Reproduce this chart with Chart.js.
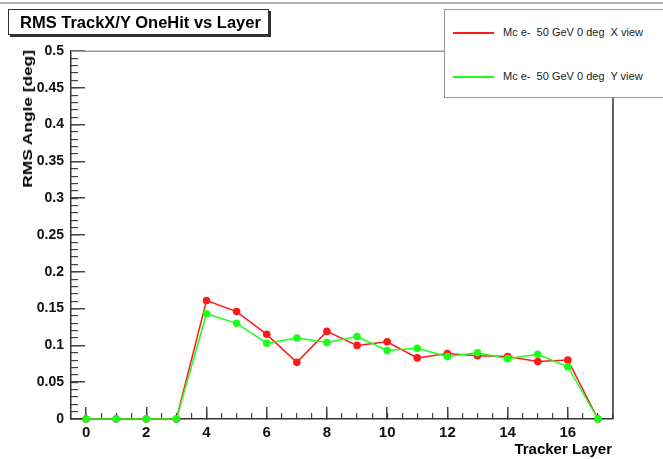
<!DOCTYPE html>
<html>
<head>
<meta charset="utf-8">
<script src="https://cdn.jsdelivr.net/npm/chart.js@4.4.0/dist/chart.umd.min.js"></script>
<style>
  body { margin: 0; background: #fff; font-family: "Liberation Sans", Arial, sans-serif; overflow: hidden; }
  #wrap { position: relative; width: 663px; height: 459px; overflow: hidden; }
  #topline { position: absolute; left: 0; top: 2px; width: 663px; height: 2px; background: #b0b0b0; }
  #title { position: absolute; left: 8px; top: 9px; width: 248px; height: 24px; border: 1px solid #333;
           box-shadow: 2px 2px 0 #333; background: #fff; font-weight: bold; font-size: 16.5px;
           line-height: 24px; padding-left: 11px; white-space: nowrap; color: #000; }
  #legend { position: absolute; left: 444px; top: 9px; width: 300px; height: 87px; border: 1px solid #999;
            background: #fff; font-size: 11px; color: #222; }
  .row { position: absolute; left: 8px; height: 14px; line-height: 14px; white-space: pre; }
  .row span { display: inline-block; width: 41px; height: 2px; vertical-align: middle; margin-right: 9px; }
  #ytitle { position: absolute; left: 20px; top: 50px; line-height: 15px; transform-origin: 0 0;
            transform: rotate(-90deg) translateX(-133%) scaleX(1.33);
            font-weight: bold; font-size: 13px; white-space: nowrap; }
  #xtitle { position: absolute; right: 51px; top: 440px; font-weight: bold; font-size: 15px; }
</style>
</head>
<body>
<div id="wrap">
  <canvas id="rmsChart" width="663" height="459"></canvas>
  <div id="topline"></div>
  <div id="title">RMS TrackX/Y OneHit vs Layer</div>
  <div id="legend">
    <div class="row" style="top:15px"><span style="background:#ff1a1a"></span>Mc e-  50 GeV 0 deg  X view</div>
    <div class="row" style="top:59px"><span style="background:#1aff1a"></span>Mc e-  50 GeV 0 deg  Y view</div>
  </div>
  <div id="ytitle">RMS Angle [deg]</div>
  <div id="xtitle">Tracker Layer</div>
</div>
<script>
// tracker layers and RMS angle per layer
const layers = [0, 1, 2, 3, 4, 5, 6, 7, 8, 9, 10, 11, 12, 13, 14, 15, 16, 17];
const rmsX = [0, 0, 0, 0, 0.161, 0.146, 0.115, 0.077, 0.119, 0.100, 0.105, 0.083, 0.089, 0.086, 0.085, 0.078, 0.080, 0];
const rmsY = [0, 0, 0, 0, 0.143, 0.130, 0.103, 0.110, 0.104, 0.112, 0.093, 0.096, 0.085, 0.090, 0.082, 0.088, 0.071, 0];

const xTickLabels = [0, 2, 4, 6, 8, 10, 12, 14, 16];
const yTickLabels = ['0', '0.05', '0.1', '0.15', '0.2', '0.25', '0.3', '0.35', '0.4', '0.45', '0.5'];
// minor tick positions (no labels)
const xMinorTicks = [-0.5, 0, 0.5, 1, 1.5, 2, 2.5, 3, 3.5, 4, 4.5, 5, 5.5, 6, 6.5, 7, 7.5, 8, 8.5,
    9, 9.5, 10, 10.5, 11, 11.5, 12, 12.5, 13, 13.5, 14, 14.5, 15, 15.5, 16, 16.5, 17, 17.5];
const yMinorTicks = [0, 0.01, 0.02, 0.03, 0.04, 0.05, 0.06, 0.07, 0.08, 0.09, 0.1, 0.11, 0.12, 0.13, 0.14,
    0.15, 0.16, 0.17, 0.18, 0.19, 0.2, 0.21, 0.22, 0.23, 0.24, 0.25, 0.26, 0.27, 0.28, 0.29, 0.3, 0.31,
    0.32, 0.33, 0.34, 0.35, 0.36, 0.37, 0.38, 0.39, 0.4, 0.41, 0.42, 0.43, 0.44, 0.45, 0.46, 0.47, 0.48, 0.49, 0.5];

// frame like ROOT: grey top, dark right
const rootFrame = {
    id: 'rootFrame',
    beforeDatasetsDraw(chart) {
        const c = chart.ctx;
        const a = chart.chartArea;
        c.save();
        c.fillStyle = '#999';
        c.fillRect(a.left, a.top - 0.5, a.right - a.left, 1.5);
        c.fillStyle = '#333';
        c.fillRect(a.right - 0.75, a.top, 1.5, a.bottom - a.top);
        c.restore();
    }
};

const tickFont = { family: 'Liberation Sans', size: 15, weight: 'bold' };

const ctx = document.getElementById('rmsChart').getContext('2d');
const rmsChart = new Chart(ctx, {
    type: 'line',
    data: {
        datasets: [{
            label: 'Mc e-  50 GeV 0 deg  Y view',
            data: layers.map((l, i) => ({ x: l, y: rmsY[i] })),
            borderColor: '#1aff1a',
            backgroundColor: '#1aff1a',
            borderWidth: 1.5,
            pointRadius: 3.8,
            pointBorderWidth: 0,
            clip: false,
            order: 0
        }, {
            label: 'Mc e-  50 GeV 0 deg  X view',
            data: layers.map((l, i) => ({ x: l, y: rmsX[i] })),
            borderColor: '#ff1a1a',
            backgroundColor: '#ff1a1a',
            borderWidth: 1.5,
            pointRadius: 3.8,
            pointBorderWidth: 0,
            clip: false,
            order: 1
        }]
    },
    options: {
        responsive: false,
        animation: false,
        layout: { padding: { left: 0, top: 51, right: 50, bottom: 0 } },
        plugins: { legend: { display: false }, tooltip: { enabled: false } },
        scales: {
            x: {
                type: 'linear',
                weight: 1,
                min: -0.5,
                max: 17.5,
                afterFit: s => { s.height = 40; },
                afterBuildTicks: s => { s.ticks = xTickLabels.map(v => ({ value: v })); },
                grid: { display: true, drawOnChartArea: false, drawTicks: true, tickLength: -12, color: '#444', lineWidth: 1.5 },
                border: { display: true, color: '#333', width: 1.5 },
                ticks: { color: '#111', padding: 17, font: tickFont }
            },
            xMinor: {
                type: 'linear',
                position: 'bottom',
                weight: 0,
                min: -0.5,
                max: 17.5,
                afterFit: s => { s.height = 0; },
                afterBuildTicks: s => { s.ticks = xMinorTicks.map(v => ({ value: v })); },
                grid: { display: true, drawOnChartArea: false, drawTicks: true, tickLength: -6, color: '#444', lineWidth: 1.2 },
                border: { display: false },
                ticks: { display: false }
            },
            y: {
                weight: 1,
                min: 0,
                max: 0.5,
                afterFit: s => { s.width = 71; },
                afterBuildTicks: s => { s.ticks = yTickLabels.map(t => ({ value: parseFloat(t) })); },
                grid: { display: true, drawOnChartArea: false, drawTicks: true, tickLength: -14, color: '#444', lineWidth: 1.5 },
                border: { display: true, color: '#333', width: 1.5 },
                ticks: {
                    color: '#111',
                    padding: 21,
                    font: { family: 'Liberation Sans', size: 14, weight: 'bold' },
                    callback: (v, i) => yTickLabels[i]
                }
            },
            yMinor: {
                position: 'left',
                weight: 0,
                min: 0,
                max: 0.5,
                afterFit: s => { s.width = 0; },
                afterBuildTicks: s => { s.ticks = yMinorTicks.map(v => ({ value: v })); },
                grid: { display: true, drawOnChartArea: false, drawTicks: true, tickLength: -7, color: '#444', lineWidth: 1.2 },
                border: { display: false },
                ticks: { display: false }
            }
        }
    },
    plugins: [rootFrame]
});
</script>
</body>
</html>
